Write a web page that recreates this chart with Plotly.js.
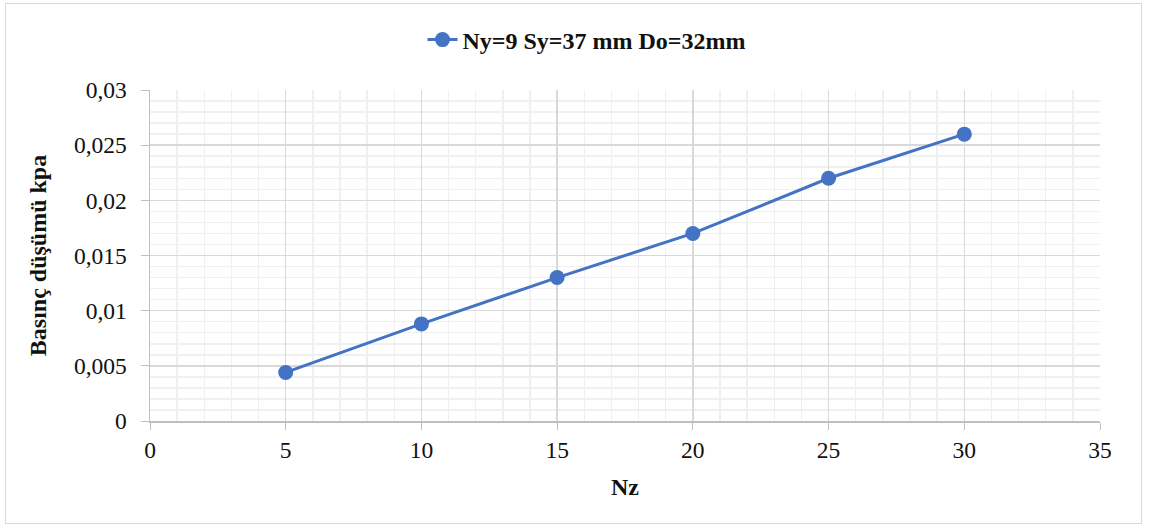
<!DOCTYPE html>
<html>
<head>
<meta charset="utf-8">
<script src="https://cdn.plot.ly/plotly-3.0.1.min.js"></script>
<style>
  html, body { margin: 0; padding: 0; background: #fff; }
  #wrap { position: relative; width: 1150px; height: 528px; }
  #chart { width: 1150px; height: 528px; }
  #frame {
    position: absolute; left: 5px; top: 3px; width: 1137px; height: 521px;
    border: 1.5px solid #d9d9d9; pointer-events: none; box-sizing: border-box;
  }
</style>
</head>
<body>
<div id="wrap">
  <div id="chart"></div>
  <div id="frame"></div>
</div>
<script>
// Pressure drop versus number of tube rows
const nz = [5, 10, 15, 20, 25, 30];
const pressureDrop = [0.0044, 0.0088, 0.013, 0.017, 0.022, 0.026];
const seriesName = 'Ny=9 Sy=37 mm Do=32mm';
const xTitle = 'Nz';
const yTitle = 'Basınç düşümü kpa';

const serif = 'Liberation Serif, Times New Roman, serif';
const fs = 23.5;

const trace = {
  x: nz,
  y: pressureDrop,
  type: 'scatter',
  mode: 'lines+markers',
  name: seriesName,
  line: { color: '#4472C4', width: 3 },
  marker: { color: '#4472C4', size: 15 }
};

const layout = {
  width: 1150,
  height: 528,
  margin: { l: 150, r: 50, t: 90, b: 107 },
  paper_bgcolor: '#ffffff',
  plot_bgcolor: '#ffffff',
  separators: ',.',
  font: { family: serif, size: fs, color: '#111' },
  showlegend: true,
  legend: {
    orientation: 'h',
    xref: 'container', yref: 'container',
    x: 0.5 + 12 / 1150, xanchor: 'center',
    y: 1 - 40 / 528, yanchor: 'middle',
    font: { family: serif, size: 24, color: '#111', weight: 'bold' }
  },
  xaxis: {
    range: [0, 35],
    dtick: 5,
    tick0: 0,
    showline: true,
    linecolor: '#bfbfbf',
    linewidth: 1.5,
    ticks: 'outside',
    ticklen: 7,
    tickcolor: '#bfbfbf',
    showgrid: true,
    gridcolor: '#d9d9d9',
    gridwidth: 1.5,
    zeroline: false,
    automargin: false,
    minor: { dtick: 1, showgrid: true, gridcolor: '#f0f0f0', gridwidth: 1.5 },
    tickfont: { family: serif, size: fs, color: '#111' },
    title: { text: xTitle, font: { family: serif, size: 24, color: '#111', weight: 'bold' }, standoff: 16 }
  },
  yaxis: {
    range: [0, 0.03],
    dtick: 0.005,
    tick0: 0,
    showline: true,
    linecolor: '#bfbfbf',
    linewidth: 1.5,
    ticks: 'outside',
    ticklen: 8,
    tickcolor: '#bfbfbf',
    ticklabelstandoff: 9,
    showgrid: true,
    gridcolor: '#d9d9d9',
    gridwidth: 1.5,
    zeroline: false,
    automargin: false,
    minor: { dtick: 0.001, showgrid: true, gridcolor: '#f0f0f0', gridwidth: 1.5 },
    tickfont: { family: serif, size: fs, color: '#111' },
    title: { text: yTitle, font: { family: serif, size: 24, color: '#111', weight: 'bold' }, standoff: 20 }
  }
};

Plotly.newPlot('chart', [trace], layout, { displayModeBar: false, staticPlot: true });
</script>
</body>
</html>
